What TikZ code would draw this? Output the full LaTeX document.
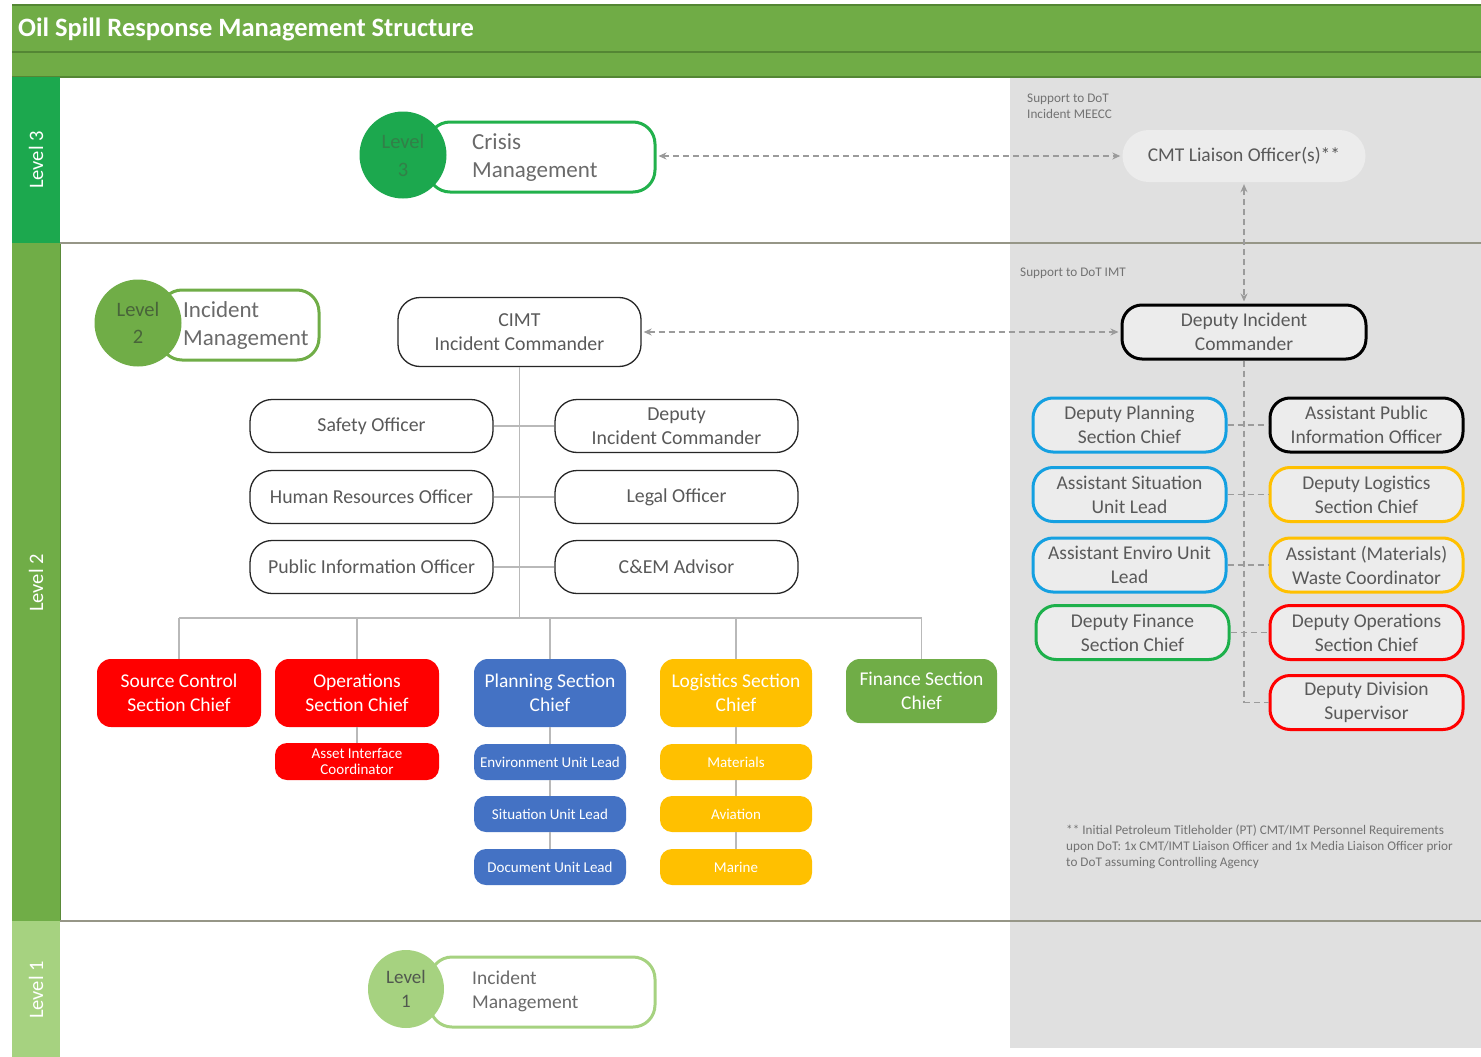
\documentclass[tikz,border=0pt]{standalone}
\usepackage{fontspec}
\setmainfont{Carlito}
\usetikzlibrary{arrows.meta,shapes.geometric}
\newcommand\myfs[2]{\fontsize{#1}{#2}\selectfont}
\definecolor{titlegreen}{RGB}{112,172,70}
\definecolor{titleline}{RGB}{84,134,52}
\definecolor{lvthree}{RGB}{28,168,78}
\definecolor{lvtwo}{RGB}{112,173,71}
\definecolor{lvone}{RGB}{166,210,128}
\definecolor{panel}{RGB}{224,224,224}
\definecolor{boxfill}{RGB}{236,236,236}
\definecolor{txt}{RGB}{89,89,89}
\definecolor{conncol}{RGB}{185,185,185}
\definecolor{dashc}{RGB}{155,155,155}
\definecolor{sepline}{RGB}{150,150,135}
\definecolor{cred}{RGB}{255,0,0}
\definecolor{cblue}{RGB}{68,114,196}
\definecolor{corange}{RGB}{255,192,0}
\definecolor{cgreen}{RGB}{112,173,71}
\definecolor{lblue}{RGB}{20,160,225}
\definecolor{dgreen}{RGB}{29,176,75}
\definecolor{crisisgreen}{RGB}{34,177,76}
\tikzset{
  officebox/.style={draw=black!85, line width=1.3pt, rounded corners=22pt, minimum width=243pt, minimum height=53pt, inner sep=0pt, align=center, text=txt, font=\myfs{19.8}{24}},
  chiefbox/.style={rounded corners=14pt, minimum height=68pt, inner sep=0pt, align=center, text=white, font=\myfs{19.5}{24}},
  unitbox/.style={rounded corners=12pt, minimum height=36pt, minimum width=152pt, inner sep=0pt, align=center, text=white, font=\myfs{15}{16}},
  greybox/.style={line width=3pt, fill=boxfill, rounded corners=20pt, minimum width=193pt, minimum height=54pt, inner sep=0pt, align=center, text=txt, font=\myfs{19.5}{24}},
  levelbox/.style={line width=3pt, rounded corners=22pt, minimum height=70pt, inner sep=0pt, fill=white},
  levelcirc/.style={circle, inner sep=0pt, align=center},
  connline/.style={draw=conncol, line width=1.5pt},
  dashconn/.style={draw=dashc, line width=1.2pt, dash pattern=on 6pt off 4pt},
  darr/.style={dashconn, {Stealth[length=8pt,width=7pt]}-{Stealth[length=8pt,width=7pt]}, shorten <=2pt, shorten >=2pt},
  smalltxt/.style={text=txt!85, font=\myfs{13.2}{16}, align=left, inner sep=0pt},
  bandtxt/.style={rotate=90, text=white, font=\myfs{20.5}{22}, inner sep=0pt}
}
\begin{document}
\begin{tikzpicture}[x=1pt,y=-1pt]
\useasboundingbox (0,0) rectangle (1481,1057);
\fill[white] (0,0) rectangle (1481,1057);
% grey panel
\fill[panel] (1010,77) rectangle (1481,1048);
% title bar
\fill[titlegreen] (12,5) rectangle (1481,77);
\draw[titleline, line width=1.2pt] (12,5) -- (1481,5);
\draw[titleline, line width=1.5pt] (12,52) -- (1481,52);
\draw[titleline, line width=1.2pt] (12,77) -- (1481,77);
\node[anchor=west, text=white, font=\bfseries\myfs{26.5}{28}, inner sep=0pt] (title) at (18,29) {Oil Spill Response Management Structure};
% left bands
\fill[lvthree] (12,77) rectangle (60,243);
\fill[lvtwo] (12,243) rectangle (60,921);
\fill[lvone] (12,921) rectangle (60,1057);
\draw[lvtwo!80!black, line width=0.8pt] (60,243) -- (60,921);
\node[bandtxt] (b3) at (36,160) {Level 3};
\node[bandtxt] (b2) at (36,583) {Level 2};
\node[bandtxt] (b1) at (36,990) {Level 1};
% separators
\draw[sepline, line width=1.3pt] (60,243) -- (1481,243);
\draw[sepline, line width=1.3pt] (60,921) -- (1481,921);
% support texts
\node[smalltxt, anchor=north west] (sup3) at (1027,94) {Support to DoT\\Incident MEECC};
\node[smalltxt, anchor=west] (sup2) at (1020,273) {Support to DoT IMT};
% Level 3
\node[levelbox, draw=crisisgreen, minimum width=227pt] (crisis) at (541.5,157) {};
\node[anchor=west, text=txt!90, font=\myfs{23}{28}, align=left, inner sep=0pt] (crisistxt) at (472,158) {Crisis\\Management};
\node[levelcirc, fill=lvthree, minimum size=87pt, text={rgb,255:red,50;green,128;blue,72}, font=\myfs{20.5}{28}] (l3c) at (403,155) {Level\\3};
% CMT
\node[fill=boxfill, rounded corners=26pt, minimum width=243pt, minimum height=52pt, inner sep=0pt, text=txt, font=\myfs{19.5}{24}] (cmt) at (1244,156) {CMT Liaison Officer(s)**};
% Level 2
\node[levelbox, draw=lvtwo, minimum width=159pt] (l2box) at (239.5,325) {};
\node[anchor=west, text=txt!90, font=\myfs{23}{28}, align=left, inner sep=0pt] (l2txt) at (183,325) {Incident\\Management};
\node[levelcirc, fill=lvtwo, minimum size=87pt, text={rgb,255:red,72;green,100;blue,58}, font=\myfs{20.5}{27}] (l2c) at (138,323) {Level\\2};
% CIMT
\node[officebox, minimum height=69pt] (cimt) at (519.5,332) {CIMT\\Incident Commander};
\node[greybox, draw=black, fill=boxfill, minimum width=244pt] (dicr) at (1244,332) {Deputy Incident\\Commander};
% offices
\node[officebox] (safety) at (371.5,426) {Safety Officer};
\node[officebox] (hr) at (371.5,497) {Human Resources Officer};
\node[officebox] (pio) at (371.5,567) {Public Information Officer};
\node[officebox] (dic) at (676.5,426) {Deputy\\Incident Commander};
\node[officebox] (legal) at (676.5,497) {Legal Officer};
\node[officebox] (cem) at (676.5,567) {C\&EM Advisor};
% chiefs
\node[chiefbox, fill=cred, minimum width=164pt] (src) at (179,693) {Source Control\\Section Chief};
\node[chiefbox, fill=cred, minimum width=164pt] (ops) at (357,693) {Operations\\Section Chief};
\node[chiefbox, fill=cblue, minimum width=152pt] (plan) at (550,693) {Planning Section\\Chief};
\node[chiefbox, fill=corange, minimum width=152pt] (log) at (736,693) {Logistics Section\\Chief};
\node[chiefbox, fill=cgreen, minimum width=151pt, minimum height=64pt] (fin) at (921.5,691) {Finance Section\\Chief};
% units
\node[unitbox, fill=cred, minimum width=164pt, minimum height=37pt] (asset) at (357,761.5) {Asset Interface\\Coordinator};
\node[unitbox, fill=cblue] (env) at (550,762) {Environment Unit Lead};
\node[unitbox, fill=cblue] (sit) at (550,814) {Situation Unit Lead};
\node[unitbox, fill=cblue] (doc) at (550,867) {Document Unit Lead};
\node[unitbox, fill=corange] (mat) at (736,762) {Materials};
\node[unitbox, fill=corange] (avi) at (736,814) {Aviation};
\node[unitbox, fill=corange] (mar) at (736,867) {Marine};
% grey area boxes
\node[greybox, draw=lblue] (dpl) at (1129.5,425) {Deputy Planning\\Section Chief};
\node[greybox, draw=lblue] (asu) at (1129.5,494.5) {Assistant Situation\\Unit Lead};
\node[greybox, draw=lblue] (aeu) at (1129.5,565) {Assistant Enviro Unit\\Lead};
\node[greybox, draw=dgreen] (dfs) at (1132.5,632.5) {Deputy Finance\\Section Chief};
\node[greybox, draw=black] (apio) at (1366.5,425) {Assistant Public\\Information Officer};
\node[greybox, draw=corange] (dls) at (1366.5,494.5) {Deputy Logistics\\Section Chief};
\node[greybox, draw=corange] (awc) at (1366.5,565) {Assistant (Materials)\\Waste Coordinator};
\node[greybox, draw=cred] (dos) at (1366.5,632.5) {Deputy Operations\\Section Chief};
\node[greybox, draw=cred] (dds) at (1366.5,702.5) {Deputy Division\\Supervisor};
% footnote
\node[smalltxt, anchor=north west] (foot) at (1066,825) {** Initial Petroleum Titleholder (PT) CMT/IMT Personnel Requirements\\upon DoT: 1x CMT/IMT Liaison Officer and 1x Media Liaison Officer prior\\to DoT assuming Controlling Agency};
% Level 1
\node[levelbox, draw=lvone, minimum width=225pt] (l1box) at (542.5,992) {};
\node[anchor=west, text=txt!90, font=\myfs{19.5}{24}, align=left, inner sep=0pt] (l1txt) at (472,991) {Incident\\Management};
\node[ellipse, inner sep=0pt, fill=lvone, minimum width=76pt, minimum height=78pt, align=center, text={rgb,255:red,80;green,88;blue,78}, font=\myfs{19}{24}] (l1c) at (406,989) {Level\\1};
% connectors white area
\coordinate (busc) at (519.5,618);
\draw[connline] (cimt.south) -- (busc);
\draw[connline] (safety.east) -- (dic.west);
\draw[connline] (hr.east) -- (legal.west);
\draw[connline] (pio.east) -- (cem.west);
\draw[connline] (src.north |- busc) -- (fin.north |- busc);
\foreach \n in {src,ops,plan,log,fin} { \draw[connline] (\n.north |- busc) -- (\n.north); }
\draw[connline] (ops.south) -- (asset.north);
\draw[connline] (plan.south) -- (env.north);
\draw[connline] (env.south) -- (sit.north);
\draw[connline] (sit.south) -- (doc.north);
\draw[connline] (log.south) -- (mat.north);
\draw[connline] (mat.south) -- (avi.north);
\draw[connline] (avi.south) -- (mar.north);
% dashed links
\draw[darr] (crisis.east |- cmt.west) -- (cmt.west);
\draw[darr] (cimt.east) -- (dicr.west);
\draw[darr] (cmt.south) -- (dicr.north);
\coordinate (spineend) at (1244,702.5);
\draw[dashconn] (dicr.south) -- (spineend);
\draw[dashconn] (dpl.east) -- (apio.west);
\draw[dashconn] (asu.east) -- (dls.west);
\draw[dashconn] (aeu.east) -- (awc.west);
\draw[dashconn] (dfs.east) -- (dos.west);
\draw[dashconn] (spineend) -- (dds.west);
\end{tikzpicture}
\end{document}
